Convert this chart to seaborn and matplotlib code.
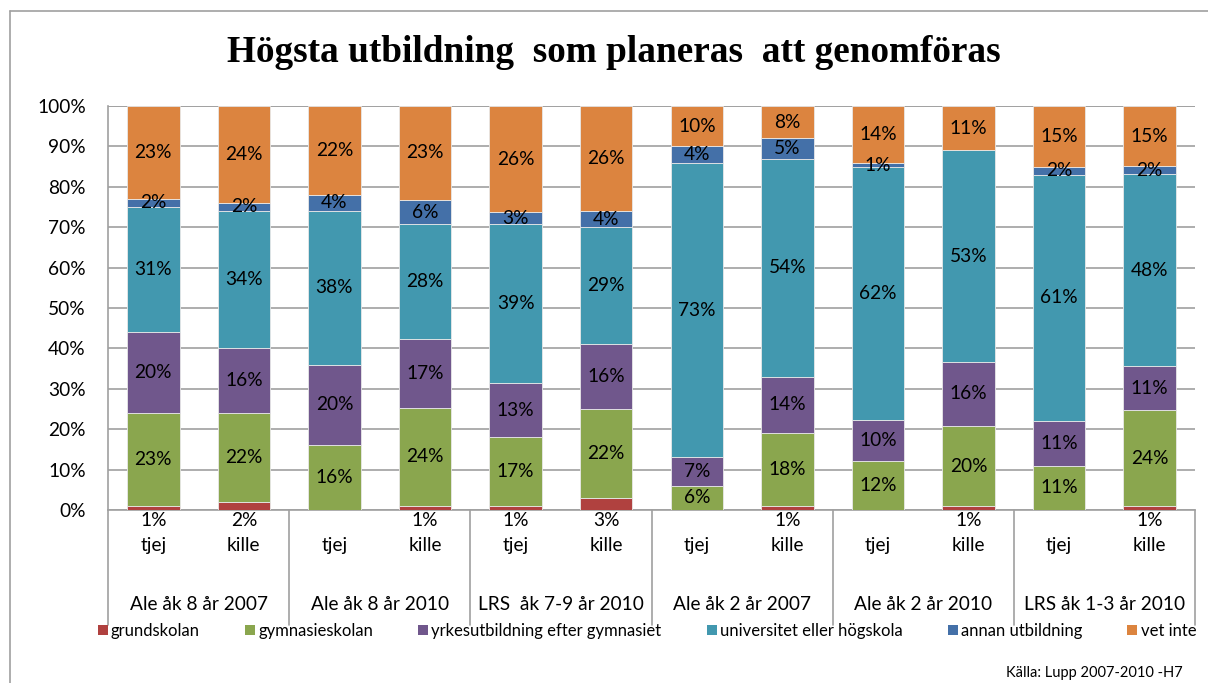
import numpy as np
import pandas as pd
import matplotlib
matplotlib.use("Agg")
import matplotlib.pyplot as plt
from matplotlib.lines import Line2D
from matplotlib.patches import Patch
import seaborn as sns

sns.set_style("white")
plt.rcParams['font.family'] = ['Lato', 'DejaVu Sans']
plt.rcParams['text.color'] = 'black'
plt.rcParams['ytick.color'] = 'black'

# ---- data ----
groups = ["Ale åk 8 år 2007", "Ale åk 8 år 2010", "LRS  åk 7-9 år 2010",
          "Ale åk 2 år 2007", "Ale åk 2 år 2010", "LRS åk 1-3 år 2010"]
genders = ["tjej", "kille"]
series_names = ["grundskolan", "gymnasieskolan", "yrkesutbildning efter gymnasiet",
                "universitet eller högskola", "annan utbildning", "vet inte"]
grundskolan = [1, 2, 0, 1, 1, 3, 0, 1, 0, 1, 0, 1]
gymnasieskolan = [23, 22, 16, 24, 17, 22, 6, 18, 12, 20, 11, 24]
yrkesutbildning = [20, 16, 20, 17, 13, 16, 7, 14, 10, 16, 11, 11]
universitet = [31, 34, 38, 28, 39, 29, 73, 54, 62, 53, 61, 48]
annan = [2, 2, 4, 6, 3, 4, 4, 5, 1, 0, 2, 2]
vet_inte = [23, 24, 22, 23, 26, 26, 10, 8, 14, 11, 15, 15]
colors = ["#B0413F", "#8AA64E", "#70578C", "#4298AF", "#4470A8", "#DC843F"]

series = [grundskolan, gymnasieskolan, yrkesutbildning, universitet, annan, vet_inte]
vals = np.array(series, dtype=float)
totals = vals.sum(axis=0)
shares = vals / totals  # 100% stacked
bar_ids = [f"{g}|{s}" for g in groups for s in genders]

FS = 13.8
W, H = 1208, 683
fig = plt.figure(figsize=(W / 100, H / 100), dpi=100)
ax = fig.add_axes([108 / W, 1 - 510 / H, (1195 - 108) / W, (510 - 106) / H])

bottom = np.zeros(len(bar_ids))
for name, sh, col in zip(series_names, shares, colors):
    df = pd.DataFrame({"bar": bar_ids, "v": sh})
    sns.barplot(data=df, x="bar", y="v", order=bar_ids, color=col, bottom=bottom,
                width=0.58, errorbar=None, ax=ax, edgecolor="#E8E8E8",
                linewidth=0.6, zorder=3, saturation=1)
    bottom = bottom + sh
if ax.get_legend() is not None:
    ax.get_legend().remove()

# segment labels
cum = np.zeros(len(bar_ids))
for si, (raw, sh) in enumerate(zip(series, shares)):
    for i in range(len(bar_ids)):
        v = raw[i]
        if v > 0:
            if si == 0:
                y = -0.026
            else:
                y = cum[i] + sh[i] / 2
            ax.text(i, y, f"{v}%", ha="center", va="center", fontsize=FS,
                    color="black", zorder=5, clip_on=False)
    cum = cum + sh

ax.set_xlim(-0.5, len(bar_ids) - 0.5)
ax.set_ylim(0, 1)
ax.set_yticks(np.arange(0, 1.01, 0.1))
ax.set_yticklabels([f"{int(round(t * 100))}%" for t in np.arange(0, 1.01, 0.1)], fontsize=FS)
ax.tick_params(axis="y", length=0, pad=16)
ax.set_xticks([])
ax.set_xlabel("")
ax.set_ylabel("")
ax.grid(axis="y", color="#A0A0A0", linewidth=1.2, zorder=0)
for sp in ["top", "right"]:
    ax.spines[sp].set_visible(False)
ax.spines["left"].set_color("#A0A0A0")
ax.spines["bottom"].set_color("#A0A0A0")
ax.spines["left"].set_linewidth(1.2)
ax.spines["bottom"].set_linewidth(1.2)
ax.axhline(1.0, color="#A0A0A0", linewidth=1.2, zorder=1)

# multi-level category axis
trans = ax.get_xaxis_transform()
for i, bid in enumerate(bar_ids):
    ax.text(i, -0.089, genders[i % 2], ha="center", va="center", fontsize=FS,
            transform=trans, clip_on=False)
for gi, g in enumerate(groups):
    ax.text(gi * 2 + 0.5, -0.233, g, ha="center", va="center", fontsize=FS,
            transform=trans, clip_on=False)
for k in range(len(groups) + 1):
    xk = -0.5 + 2 * k
    ax.add_line(Line2D([xk, xk], [0, -0.285], transform=trans, color="#A0A0A0",
                       linewidth=1.2, clip_on=False))

# title
fig.text(614 / W, 1 - 52 / H, "Högsta utbildning  som planeras  att genomföras",
         ha="center", va="center", fontsize=26.8, fontweight="bold",
         family=["Liberation Serif", "DejaVu Serif"])

# legend
handles = [Patch(facecolor=c, edgecolor="none") for c in colors]
fig.legend(handles, series_names, loc="center", bbox_to_anchor=(647 / W, 1 - 631 / H),
           ncol=6, frameon=False, fontsize=12, handlelength=0.6, handleheight=0.6,
           handletextpad=0.2, columnspacing=2.7, borderaxespad=0)

# source
fig.text(1183 / W, 1 - 673 / H, "Källa: Lupp 2007-2010 -H7", ha="right", va="center",
         fontsize=10.5)

# outer chart frame
fig.add_artist(Line2D([10 / W, 1.0], [1 - 11 / H, 1 - 11 / H], transform=fig.transFigure,
                      color="#A0A0A0", linewidth=1.2))
fig.add_artist(Line2D([10 / W, 10 / W], [1 - 11 / H, 0], transform=fig.transFigure,
                      color="#A0A0A0", linewidth=1.2))

fig.savefig("out.png", dpi=100)
